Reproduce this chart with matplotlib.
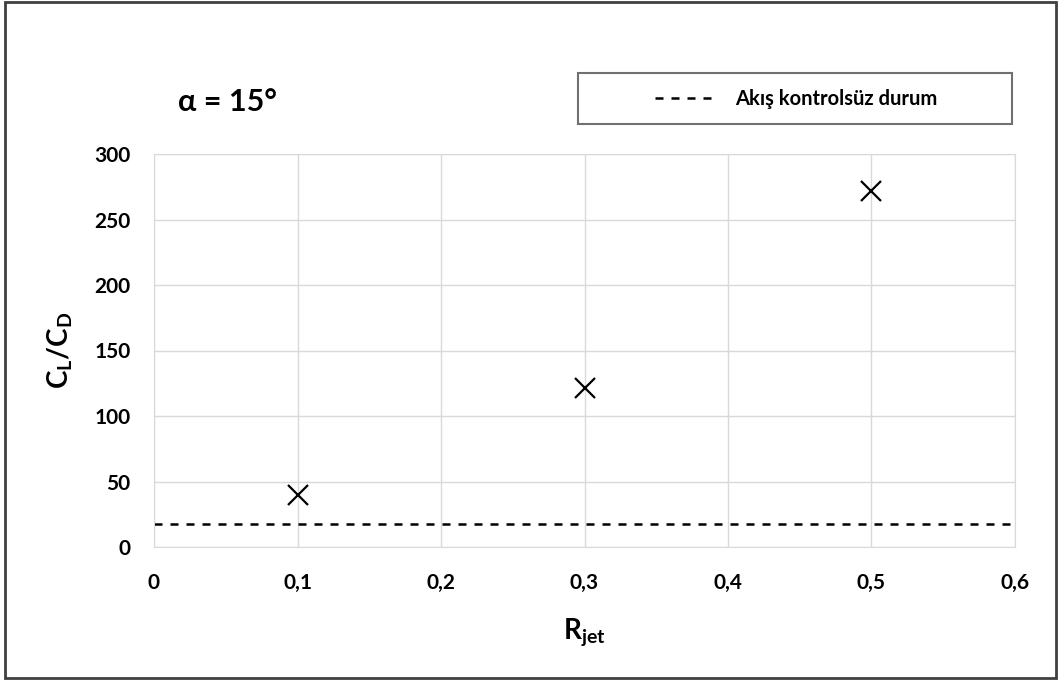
import matplotlib
matplotlib.use("Agg")
import matplotlib.pyplot as plt
from matplotlib.patches import Rectangle
from matplotlib.ticker import FuncFormatter

plt.rcParams["font.family"] = ["Lato", "DejaVu Sans"]
plt.rcParams["font.weight"] = "bold"
plt.rcParams["mathtext.fontset"] = "custom"
plt.rcParams["mathtext.rm"] = "Lato:bold"
plt.rcParams["mathtext.bf"] = "Lato:bold"
plt.rcParams["mathtext.it"] = "Lato:bold"

# veriler
r_jet = [0.1, 0.3, 0.5]
cl_cd = [40, 121, 272]
kontrolsuz = 17.6
x_ticks = [0, 0.1, 0.2, 0.3, 0.4, 0.5, 0.6]
y_ticks = [0, 50, 100, 150, 200, 250, 300]

fig = plt.figure(figsize=(10.58, 6.81), dpi=100)
ax = fig.add_axes([154/1058, 1-547/681, (1015-154)/1058, (547-154)/681])

ax.plot(r_jet, cl_cd, linestyle="none", marker="x", color="black",
        markersize=15, markeredgewidth=1.6)
ax.axhline(kontrolsuz, color="black", lw=1.8, dashes=(3.2, 3.2),
           label="Akış kontrolsüz durum")

ax.set_xlim(0, 0.6)
ax.set_ylim(0, 300)
ax.set_xticks(x_ticks)
ax.set_yticks(y_ticks)
ax.xaxis.set_major_formatter(FuncFormatter(lambda v, p: "0" if v == 0 else f"{v:.1f}".replace(".", ",")))
ax.tick_params(length=0, labelsize=15)
ax.tick_params(axis="x", pad=19)
ax.tick_params(axis="y", pad=17)
ax.grid(True, color="#d9d9d9", lw=1)
ax.set_axisbelow(True)
for s in ax.spines.values():
    s.set_color("#d9d9d9")

ax.set_xlabel(r"$\mathrm{R_{jet}}$", fontsize=20, labelpad=16)
ax.set_ylabel(r"$\mathrm{C_L/C_D}$", fontsize=20, labelpad=14)

fig.text(178/1058, 1-111/681, "α = 15°", fontsize=22, fontweight="bold")

# legend kutusu
fig.patches.append(Rectangle((578/1058, 1-124/681), (1012-578)/1058, 51/681,
                             transform=fig.transFigure, fill=False,
                             edgecolor="#707070", lw=1.5))
ax.legend(loc="center", bbox_to_anchor=(796/1058, 1-99/681),
          bbox_transform=fig.transFigure, frameon=False, fontsize=14.5,
          handlelength=3.2, handletextpad=0.8)

# dis cerceve
fig.patches.append(Rectangle((5/1058, 3/681), 1051/1058, 676/681,
                             transform=fig.transFigure, fill=False,
                             edgecolor="#404040", lw=2))

fig.savefig("out.png", dpi=100)
